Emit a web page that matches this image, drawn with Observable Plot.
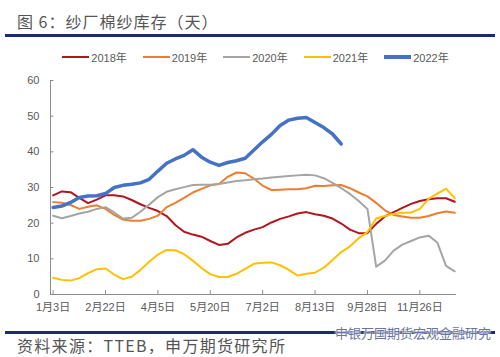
<!DOCTYPE html>
<html>
<head>
<meta charset="utf-8">
<script src="https://cdn.jsdelivr.net/npm/d3@7"></script>
<script src="https://cdn.jsdelivr.net/npm/@observablehq/plot@0.6"></script>
<style>
  body { margin: 0; background: #fff; }
  #wrap { position: relative; width: 500px; height: 357px; overflow: hidden; background: #fff; font-family: "Noto Sans CJK SC", sans-serif; }
  #title { position: absolute; left: 17px; top: 9px; font-size: 16px; letter-spacing: 1px; color: #555; line-height: 24px; white-space: nowrap; }
  .bar { position: absolute; left: 5px; width: 490px; height: 3px; background: #1c2a6e; }
  #legend { position: absolute; left: 0; top: 48px; width: 500px; height: 18px; display: flex; justify-content: center; padding-left: 11px; box-sizing: border-box; font-family: "Liberation Sans", "Noto Sans CJK SC", sans-serif; font-size: 11px; color: #595959; }
  .item { display: flex; align-items: center; margin-right: 16px; white-space: nowrap; }
  .item:last-child { margin-right: 0; }
  .swatch { width: 27px; margin-right: 2px; }
  #chart { position: absolute; left: 0; top: 70px; }
  #wm { position: absolute; left: 335px; top: 323px; font-size: 13px; color: #6b74a0; white-space: nowrap; text-shadow: 0 0 2px #fff, 0 0 2px #fff, 0 0 3px #fff; }
  #src { position: absolute; left: 17px; top: 336px; font-size: 16px; letter-spacing: 1.3px; color: #555; line-height: 18px; white-space: nowrap; }
</style>
</head>
<body>
<div id="wrap">
  <div id="title">图 6：纱厂棉纱库存（天）</div>
  <div class="bar" style="top:34px"></div>
  <div id="legend"></div>
  <div id="chart"></div>
  <div class="bar" style="top:331px"></div>
  <div id="wm">申银万国期货宏观金融研究</div>
  <div id="src">资料来源：TTEB，申万期货研究所</div>
</div>
<script>
// ---- data ----
const seriesNames = ["2018年", "2019年", "2020年", "2021年", "2022年"];
const seriesColors = ["#b3151f", "#ed7d31", "#a5a5a5", "#ffc000", "#4472c4"];
const seriesWidths = [2, 2, 2, 2, 3.5];
const xLabels = ["1月3日", "2月22日", "4月5日", "5月20日", "7月2日", "8月13日", "9月28日", "11月26日"];
const labelEvery = 6; // one label every 6 weekly categories
const yTicks = [0, 10, 20, 30, 40, 50, 60];

const v2018 = [27.8, 28.9, 28.7, 27.1, 25.6, 26.6, 27.8, 27.8, 27.5, 26.5, 25.3, 24.3, 23.4,
  22.0, 19.5, 17.6, 16.8, 16.2, 15.0, 13.9, 14.2, 16.0, 17.3, 18.2, 18.9,
  20.2, 21.2, 21.9, 22.7, 23.1, 22.5, 22.1, 21.3, 19.9, 18.2, 17.2, 17.2,
  19.8, 21.9, 23.1, 24.3, 25.4, 26.2, 26.7, 27.0, 27.0, 26.0];
const v2019 = [25.9, 25.7, 25.1, 24.0, 24.6, 25.0, 24.0, 22.3, 21.0, 20.7, 20.7, 21.2, 22.1,
  24.5, 25.7, 27.1, 28.6, 29.6, 30.6, 31.0, 33.0, 34.2, 34.0, 32.5, 30.5,
  29.3, 29.4, 29.5, 29.5, 29.8, 30.5, 30.4, 30.6, 30.7, 29.8, 28.6, 27.5,
  25.7, 23.6, 22.3, 21.9, 21.5, 21.5, 22.0, 22.8, 23.3, 22.9];
const v2020 = [22.1, 21.4, 22.0, 22.7, 23.2, 24.0, 24.5, 23.0, 21.3, 21.5, 23.2, 25.2, 27.3,
  28.8, 29.5, 30.1, 30.7, 30.8, 30.8, 31.0, 31.4, 31.8, 32.0, 32.3, 32.5,
  32.8, 33.0, 33.2, 33.4, 33.6, 33.4, 32.6, 31.3, 29.8, 28.2, 26.2, 24.0,
  7.8, 9.5, 12.3, 14.0, 15.0, 16.0, 16.5, 14.6, 8.0, 6.5];
const v2021 = [4.7, 4.1, 3.9, 4.6, 6.0, 7.1, 7.3, 5.6, 4.3, 5.0, 6.9, 9.2, 11.2,
  12.5, 12.4, 11.3, 9.5, 7.4, 5.7, 4.9, 4.9, 5.8, 7.2, 8.6, 8.9,
  9.0, 8.2, 6.9, 5.3, 5.8, 6.1, 7.5, 9.7, 11.9, 13.5, 15.8, 17.5,
  21.3, 22.0, 22.6, 22.9, 23.0, 24.0, 26.8, 28.3, 29.7, 27.0];
const v2022 = [24.4, 24.8, 25.8, 27.2, 27.6, 27.7, 28.3, 30.0, 30.6, 30.9, 31.3, 32.3, 34.6,
  36.8, 38.0, 39.0, 40.6, 38.5, 37.1, 36.2, 37.0, 37.5, 38.2, 40.5, 42.8,
  44.9, 47.4, 48.9, 49.4, 49.6, 48.2, 46.8, 45.0, 42.2];
const seriesValues = [v2018, v2019, v2020, v2021, v2022];

// ---- build ----
const rows = seriesNames.flatMap((name, s) => seriesValues[s].map((v, i) => ({series: name, i, v})));
const tickIdx = xLabels.map((_, k) => k * labelEvery);
const xDomain = [-0.3, 46.2];
const axisColor = "#8c8c8c";
const yTickLen = 1.1;   // inward tick length in value units
const xTickLen = 0.4;

// legend
const legend = document.getElementById("legend");
seriesNames.forEach((name, s) => {
  const it = document.createElement("div");
  it.className = "item";
  const sw = document.createElement("div");
  sw.className = "swatch";
  sw.style.height = seriesWidths[s] + "px";
  sw.style.background = seriesColors[s];
  const tx = document.createElement("span");
  tx.textContent = name;
  it.appendChild(sw); it.appendChild(tx);
  legend.appendChild(it);
});

const chart = Plot.plot({
  width: 500,
  height: 250,
  marginTop: 10,
  marginBottom: 26,
  marginLeft: 50,
  marginRight: 44,
  style: {fontFamily: '"Liberation Sans", "Noto Sans CJK SC", sans-serif', fontSize: "11px", color: "#595959", background: "transparent", overflow: "visible"},
  x: {type: "linear", domain: xDomain, label: null},
  y: {domain: [0, 60], label: null},
  color: {domain: seriesNames, range: seriesColors},
  marks: [
    Plot.axisY(yTicks, {tickSize: 0, tickPadding: 11, tickFormat: d => d, label: null}),
    Plot.axisX(tickIdx, {tickSize: 0, tickPadding: 9, tickFormat: d => xLabels[d / labelEvery], label: null}),
    Plot.ruleX(tickIdx, {x: d => d, y1: 0, y2: yTickLen, stroke: axisColor}),
    Plot.ruleY(yTicks, {y: d => d, x1: xDomain[0], x2: xDomain[0] + xTickLen, stroke: axisColor}),
    Plot.ruleX([xDomain[0]], {stroke: axisColor}),
    Plot.ruleY([0], {stroke: axisColor}),
    ...seriesNames.map((name, s) => Plot.lineY(rows.filter(r => r.series === name), {
      x: "i", y: "v", stroke: seriesColors[s], strokeWidth: seriesWidths[s], strokeLinejoin: "round", strokeLinecap: "round"
    }))
  ]
});
document.getElementById("chart").appendChild(chart);
</script>
</body>
</html>
